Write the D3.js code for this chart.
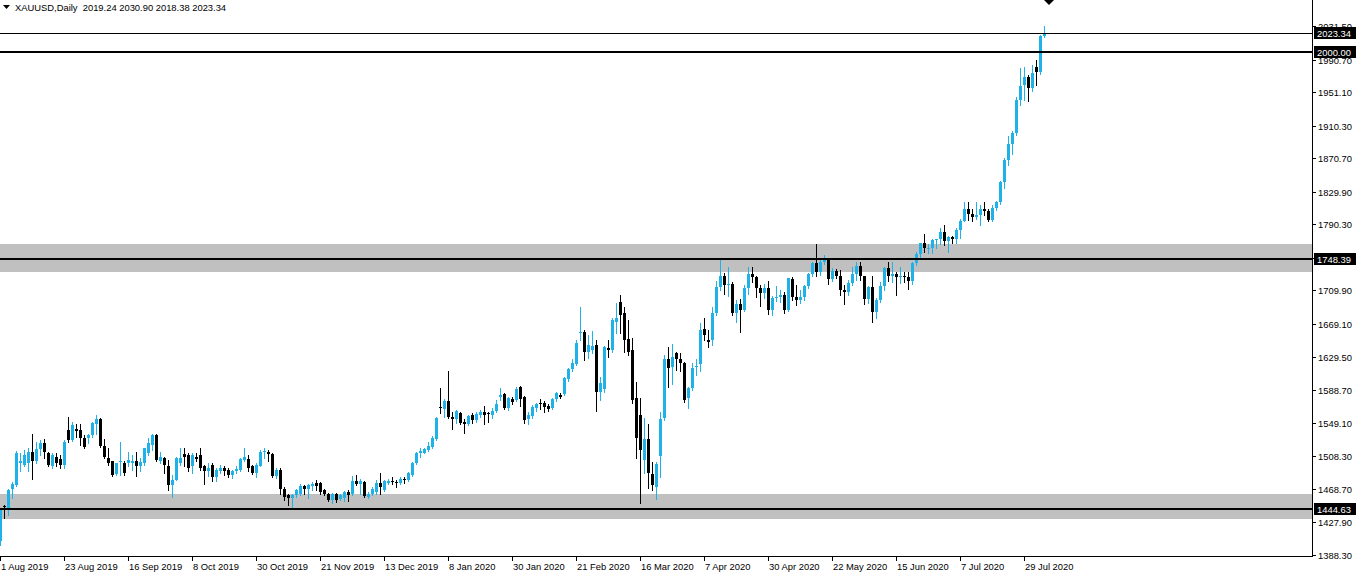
<!DOCTYPE html>
<html><head><meta charset="utf-8">
<script src="https://cdn.jsdelivr.net/npm/d3@7"></script>
<style>
body{margin:0;background:#fff;overflow:hidden}
svg{display:block}
text{font-family:"Liberation Sans",Arial,sans-serif;font-size:9.4px}
</style>
</head><body><svg id="c" width="1357" height="577"></svg>
<script>
const symbol = "XAUUSD,Daily";
const lastOHLC = [2019.24, 2030.90, 2018.38, 2023.34];
const dateLabels = ["1 Aug 2019","23 Aug 2019","16 Sep 2019","8 Oct 2019","30 Oct 2019","21 Nov 2019","13 Dec 2019","8 Jan 2020","30 Jan 2020","21 Feb 2020","16 Mar 2020","7 Apr 2020","30 Apr 2020","22 May 2020","15 Jun 2020","7 Jul 2020","29 Jul 2020"];
const dateLabelBars = [0,16,32,48,64,80,96,112,128,144,160,176,192,208,224,240,256];
const priceTicks = [2031.50,1990.70,1951.10,1910.30,1870.70,1829.90,1790.30,1749.50,1709.90,1669.10,1629.50,1588.70,1549.10,1508.30,1468.70,1427.90,1388.30];
const zones = [[1733,1767],[1432,1463]];
const levels = [2000.00, 1748.39, 1444.63];
const currentPrice = 2023.34;
// daily candles [open, high, low, close], 1 Aug 2019 .. 5 Aug 2020
const candles = [
[1405,1446,1400,1443],[1447.5,1449,1433,1446.5],[1443,1468,1437,1467],[1469,1477,1457,1475],[1473,1515,1472,1512.5],
[1500.6,1512,1491,1503],[1498,1516,1496,1510],[1500,1518,1490,1513],[1513,1536,1481,1502],[1502,1526,1500,1517],
[1517,1528,1510,1525],[1524,1529,1506,1514],[1512,1514,1496,1498],[1496,1512,1494,1510],[1508,1512,1497,1500],
[1505,1510,1494,1498],[1498,1528,1494,1526],[1540,1556,1526,1528],[1528,1550,1527,1546],[1542,1548,1532,1539],
[1540,1548,1522,1530],[1530,1534,1518,1520],[1530,1536,1524,1534],[1534,1550,1532,1549],[1548,1558,1536,1554],
[1554,1555,1520,1520.5],[1521,1529,1506,1508],[1506,1518,1498,1500],[1502,1502.5,1484,1486],[1487,1500.5,1486,1500],
[1501,1526,1486,1502],[1500,1503,1486,1488],[1500,1514,1496,1504],[1500,1510,1492,1503],[1503,1514,1484,1496],
[1496,1506,1490,1501],[1500,1518,1498,1518],[1512,1530,1510,1524],[1522,1536,1516,1534],[1534,1536,1502,1504],
[1503,1514,1500,1507],[1506,1508,1488,1498],[1497,1504,1467,1473],[1473,1485,1459,1480],[1480,1508,1479,1506],
[1500,1518,1498,1506],[1511,1518,1496,1507],[1510,1512,1490,1494],[1496,1512,1488,1510],[1508,1512,1503,1505],
[1510,1518,1492,1494],[1497,1498,1475,1490],[1490,1500,1484,1494],[1498,1500,1478,1483],[1483,1494,1478,1492],
[1491,1498,1488,1494],[1494,1496,1486,1490],[1492,1494,1483,1486],[1486,1492,1482,1490],[1490,1496,1488,1493],
[1492,1506,1490,1505],[1504,1519,1502,1507],[1505,1510,1491,1494],[1496,1498,1487,1488],[1488,1500,1483,1498],
[1497,1516,1496,1514],[1513,1518,1506,1515],[1514,1516,1502,1511],[1511,1512,1483,1484],[1484,1494,1482,1492],
[1492,1494,1463,1469],[1469,1471,1455,1459],[1461,1463,1449,1457],[1457,1463,1445,1461],[1461,1469,1459,1467],
[1463,1475,1461,1472],[1472,1473,1463,1469],[1469,1475,1457,1473],[1472,1477,1467,1475],[1476,1479,1467,1472],
[1476,1477,1463,1465],[1467,1469,1461,1463],[1462,1464,1454,1455],[1455,1464,1451,1462],[1463,1464,1453,1455],
[1456,1463,1455,1461],[1457,1466,1454,1465],[1465,1467,1454,1461],
[1463,1484,1461,1478],[1478,1486,1473,1475],[1475,1481,1463,1478],[1477.5,1478,1459,1460],[1459,1465,1458,1463],
[1463,1471,1461,1469],[1465,1480,1463,1476],[1476,1488,1463,1471],[1467,1479.5,1466,1478],[1476,1481,1475,1478],
[1478,1483,1475,1477],[1477.5,1480,1471,1475.5],[1475.5,1483.6,1474.7,1480.7],[1481,1483,1476,1479],[1479.5,1488.8,1478.7,1487.6],
[1485.6,1501.8,1484.8,1500.6],[1499.8,1514,1499,1512.7],[1512,1518,1508,1514.8],[1512.7,1518,1512,1516.8],[1516,1526,1515,1521],
[1520,1533,1518,1531],[1529.4,1555.7,1528,1554.5],[1568.7,1590.9,1561.4,1566.7],[1565.4,1578,1555.7,1576],[1575.6,1612.5,1554.5,1556.5],
[1556.5,1562.6,1541.1,1553.3],[1553.3,1564.6,1548.4,1563.4],[1561.4,1562.6,1547.2,1548.4],[1550.5,1553.3,1537.1,1547.6],[1547.2,1558.5,1546.4,1557.3],
[1558.5,1560.6,1548.4,1552.5],[1552.5,1562.6,1550.4,1559.8],[1558.5,1564.6,1556.5,1562.6],[1561.8,1569.5,1547.2,1558.5],[1561.4,1562.6,1550.4,1559.8],
[1558.5,1566.7,1554.5,1563.8],[1563.4,1576.8,1562.6,1571.9],[1580.8,1591,1576.8,1582.9],[1583.7,1584.9,1565.4,1566.7],[1566.7,1580,1564.6,1578.8],
[1577.6,1580.9,1571.9,1573.9],[1576.8,1592.2,1576,1589.8],[1592.2,1593.8,1569.5,1577.6],[1580.9,1581.7,1549.2,1552.5],[1553.3,1562.6,1547.6,1558.5],
[1557.3,1570.7,1554.5,1568.7],[1566.7,1573.5,1563.8,1571.9],[1573.5,1578,1565.4,1572],[1573.5,1576,1562.6,1567.9],[1569.5,1572,1563.8,1565.4],
[1566.7,1578.8,1565.4,1577.6],[1577.6,1586.5,1576,1584.9],[1582.9,1585.7,1578.8,1580],[1584.1,1605.2,1582.9,1603.1],[1601.9,1615.3,1600.3,1614.1],
[1614.1,1626.2,1612.5,1621.4],[1620.6,1649.7,1619.3,1645.7],[1657.8,1690.3,1650,1659.9],[1659.9,1661.9,1625.4,1635.5],[1635.5,1655.8,1627.4,1643.7],
[1638,1661,1634,1642],[1643.7,1649.7,1563.8,1586.9],[1587,1605,1577,1597],[1590,1643,1587,1641.6],[1640,1650,1629,1637],
[1637.6,1676,1635.5,1674.1],[1672,1694.3,1657.8,1676],[1696.3,1704.4,1657.8,1680.1],[1682,1690,1635.5,1649.7],[1650.5,1674,1631.5,1635.5],
[1637.6,1651.8,1572.7,1576.8],[1578.8,1599.1,1505.9,1530.2],[1558.5,1578.8,1452,1516],[1503.8,1554.5,1487.6,1529],[1529,1547.6,1469.4,1487.6],
[1486.8,1501.8,1467.4,1473.4],[1471.4,1501.8,1456,1499],[1508.7,1562.6,1483.6,1553.3],[1554.5,1631.5,1552.5,1626.2],[1626.2,1641.6,1592.2,1615.3],
[1616.5,1644.9,1596.2,1628.7],[1634.3,1635.5,1613.3,1626.2],[1626.2,1634,1612,1622.2],[1621.4,1623.4,1574.8,1576.8],[1578.8,1593,1566.7,1591],
[1591,1621.4,1589,1615.3],[1616.5,1626.2,1607.2,1617.5],[1620,1670,1612,1662],
[1663,1677,1650,1656],[1650,1662,1641,1647],[1650,1690,1644,1682],[1683,1722,1680,1714],[1714,1748,1710,1727],
[1727,1731,1706,1716],[1716,1738,1703,1718],[1718,1720,1680,1683],[1683,1698,1672,1694],[1694,1699,1660,1686],
[1686,1716,1685,1713],[1713,1738,1706,1730],[1730,1738,1720,1726],[1726,1728,1702,1713],[1713,1717,1691,1707],
[1707,1718,1701,1713],[1713,1722,1681,1686],[1686,1703,1680,1701],[1701,1715,1697,1702],[1702,1711,1696,1705],
[1705,1708,1682,1686],[1686,1725,1685,1725],[1724,1726,1698,1702],[1702,1716,1692,1698],[1698,1711,1695,1702],
[1702,1717,1698,1715],[1715,1731,1713,1730],[1730,1744,1727,1743],[1743,1766,1727,1733],[1733,1749,1729,1745],
[1745,1753,1742,1747],[1747,1748,1718,1724],[1724,1737,1722,1734],[1734,1736,1725,1728],[1728,1735,1705,1710],
[1710,1717,1693,1708],[1708,1723,1705,1719],[1719,1738,1716,1730],[1730,1745,1723,1740],[1740,1745,1723,1727],
[1727,1728,1693,1699],[1699,1715,1695,1714],[1714,1727,1671,1684],[1684,1701,1677,1698],[1698,1720,1696,1715],
[1715,1739,1710,1737],[1737,1744,1721,1728],[1728,1744,1720,1730],[1730,1732,1704,1726],[1726,1738,1719,1727],
[1727,1732,1720,1726],[1726,1732,1712,1722],[1722,1745,1718,1743],[1743,1757,1741,1754],[1754,1768,1748,1768],
[1768,1779,1757,1761],[1761,1767,1756,1762],[1762,1772,1755,1771],[1771,1773,1762,1772],[1772,1786,1766,1781],
[1781,1789,1765,1770],[1770,1776,1757,1775],[1775,1776,1768,1772],[1772,1786,1768,1784],[1784,1797,1774,1794],
[1794,1818,1794,1809],[1809,1818,1796,1803],[1803,1809,1795,1799],[1799,1818,1797,1802],[1802,1814,1790,1809],
[1809,1817,1802,1807],[1807,1809,1795,1796],[1796,1814,1795,1810],[1810,1819,1808,1817],[1817,1843,1815,1842],
[1842,1871,1834,1869],[1869,1898,1862,1888],[1888,1904,1876,1901],[1901,1945,1899,1942],[1942,1981,1935,1958],
[1960,1982,1941,1970],[1970,1972,1940,1956],[1956,1984,1952,1974],[1982,1990,1960,1976],[1976,2021,1973,2019],
[2019.24,2030.90,2018.38,2023.34]
];

const W = 1357, H = 577, axisX = 1312, axisY = 556;
const bull = "#1fb2e8", bear = "#000000";
const svg = d3.select("#c");
svg.append("rect").attr("width",W).attr("height",H).attr("fill","#fff");

const x = d3.scaleLinear().domain([0, candles.length - 1]).range([0, 4*(candles.length - 1)]);
const y = d3.scaleLinear().domain([1388.3, 2031.5]).range([555, 26]);

svg.append("defs").append("clipPath").attr("id","plot")
  .append("rect").attr("x",0).attr("y",0).attr("width",axisX).attr("height",axisY);
const plot = svg.append("g").attr("clip-path","url(#plot)");

// zones
plot.selectAll("rect.zone").data(zones).join("rect").attr("class","zone")
  .attr("x",0).attr("width",axisX)
  .attr("y",d=>Math.round(y(d[1]))).attr("height",d=>Math.round(y(d[0]))-Math.round(y(d[1])))
  .attr("fill","#c0c0c0");

// candles
const cg = plot.append("g");
cg.selectAll("line").data(candles).join("line")
  .attr("x1",(d,i)=>Math.round(x(i))+0.5).attr("x2",(d,i)=>Math.round(x(i))+0.5)
  .attr("y1",d=>Math.round(y(d[1]))).attr("y2",d=>Math.round(y(d[2]))+1)
  .attr("stroke",d=>d[3]>=d[0]?bull:bear).attr("stroke-width",1);
cg.selectAll("rect").data(candles).join("rect")
  .attr("x",(d,i)=>Math.round(x(i))-1).attr("width",3)
  .attr("y",d=>Math.round(y(Math.max(d[0],d[3]))))
  .attr("height",d=>Math.max(1,Math.round(y(Math.min(d[0],d[3])))-Math.round(y(Math.max(d[0],d[3])))))
  .attr("fill",d=>d[3]>=d[0]?bull:bear);

// level lines
plot.selectAll("line.lvl").data(levels).join("line").attr("class","lvl")
  .attr("x1",0).attr("x2",axisX)
  .attr("y1",d=>Math.round(y(d))).attr("y2",d=>Math.round(y(d)))
  .attr("stroke","#000").attr("stroke-width",2);
plot.append("line").attr("x1",0).attr("x2",axisX)
  .attr("y1",Math.round(y(currentPrice))+0.5).attr("y2",Math.round(y(currentPrice))+0.5)
  .attr("stroke","#000").attr("stroke-width",1);

// shift marker
const mx = Math.round(x(candles.length-1)) + 5;
svg.append("path").attr("d",`M${mx-5},0 L${mx+5},0 L${mx},5 Z`).attr("fill","#000");

// axes
svg.append("line").attr("x1",axisX+0.5).attr("x2",axisX+0.5).attr("y1",0).attr("y2",axisY+1).attr("stroke","#000");
svg.append("line").attr("x1",0).attr("x2",axisX+1).attr("y1",axisY+0.5).attr("y2",axisY+0.5).attr("stroke","#000");

// price ticks
const pt = svg.append("g");
pt.selectAll("line").data(priceTicks).join("line")
  .attr("x1",axisX+1).attr("x2",axisX+4)
  .attr("y1",d=>Math.round(y(d))+0.5).attr("y2",d=>Math.round(y(d))+0.5).attr("stroke","#000");
pt.selectAll("text").data(priceTicks).join("text")
  .attr("x",axisX+6).attr("y",d=>Math.round(y(d))+4)
  .attr("fill","#000").text(d=>d.toFixed(2));

// price boxes
const boxes = [currentPrice].concat(levels);
const bg = svg.append("g");
bg.selectAll("rect").data(boxes).join("rect")
  .attr("x",axisX+2).attr("width",W-axisX-3)
  .attr("y",d=>Math.round(y(d))-6).attr("height",12).attr("fill","#000");
bg.selectAll("text").data(boxes).join("text")
  .attr("x",axisX+5).attr("y",d=>Math.round(y(d))+4)
  .attr("fill","#fff").text(d=>d.toFixed(2));

// date ticks
const dt = svg.append("g");
dt.selectAll("line").data(dateLabelBars).join("line")
  .attr("x1",d=>Math.round(x(d))+0.5).attr("x2",d=>Math.round(x(d))+0.5)
  .attr("y1",axisY+1).attr("y2",axisY+5).attr("stroke","#000");
dt.selectAll("text").data(dateLabels).join("text")
  .attr("x",(d,i)=>Math.round(x(dateLabelBars[i]))+1).attr("y",axisY+14)
  .attr("fill","#000").text(d=>d);

// header
svg.append("path").attr("d","M3,5 L10,5 L6.5,9 Z").attr("fill","#000");
svg.append("text").attr("x",15).attr("y",11).attr("fill","#000")
  .attr("xml:space","preserve").style("white-space","pre")
  .text(symbol + "  " + lastOHLC.map(v=>v.toFixed(2)).join(" "));
</script>
</body></html>
